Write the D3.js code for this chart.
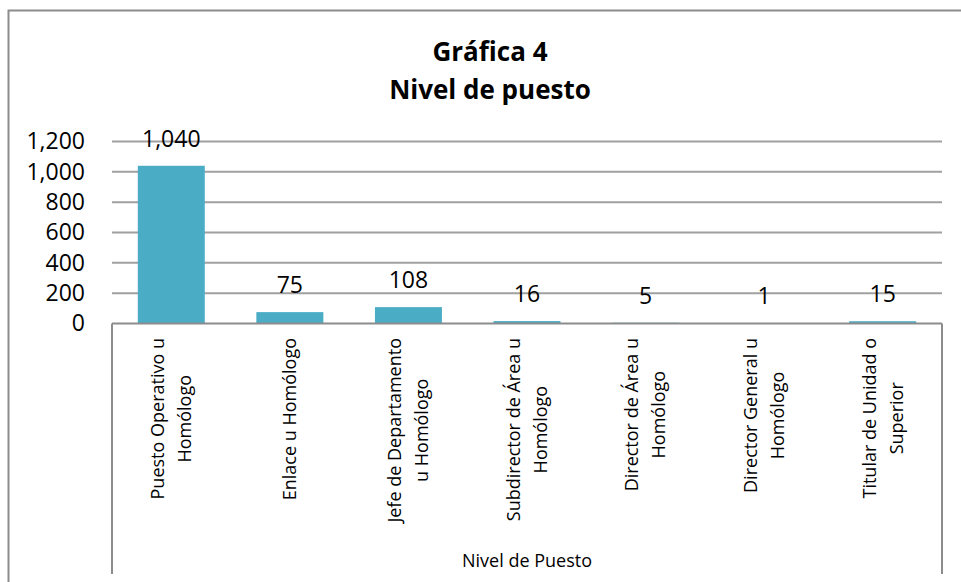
<!DOCTYPE html>
<html>
<head>
<meta charset="utf-8">
<script src="https://cdn.jsdelivr.net/npm/d3@7"></script>
<style>
  body { margin: 0; background: #fff; }
  svg { display: block; font-family: "Open Sans", sans-serif; }
</style>
</head>
<body>
<svg id="chart" width="961" height="582"></svg>
<script>
// datos de la gráfica
const categories = [
  ["Puesto Operativo u", "Homólogo"],
  ["Enlace u Homólogo"],
  ["Jefe de Departamento", "u Homólogo"],
  ["Subdirector de Área u", "Homólogo"],
  ["Director de Área u", "Homólogo"],
  ["Director General u", "Homólogo"],
  ["Titular de Unidad o", "Superior"]
];
const values = [1040, 75, 108, 16, 5, 1, 15];
const yTicks = [0, 200, 400, 600, 800, 1000, 1200];
const titleLines = ["Gráfica 4", "Nivel de puesto"];
const axisTitle = "Nivel de Puesto";

const svg = d3.select("#chart");
const plotLeft = 112, plotRight = 942, plotTop = 141.5, plotBottom = 323.5;

// marco exterior (recortado a la derecha y abajo)
svg.append("rect")
  .attr("x", 8.5).attr("y", 10.5)
  .attr("width", 1000).attr("height", 1000)
  .attr("fill", "none")
  .attr("stroke", "#8c8c8c")
  .attr("stroke-width", 2);

// título
svg.append("g").selectAll("text")
  .data(titleLines)
  .enter()
  .append("text")
  .attr("x", 490)
  .attr("y", (d, i) => 61 + i * 38)
  .attr("text-anchor", "middle")
  .attr("font-size", "26px")
  .attr("font-weight", "bold")
  .attr("fill", "#000")
  .text(d => d);

const x = d3.scaleBand()
  .domain(d3.range(categories.length))
  .range([plotLeft, plotRight])
  .paddingInner(0.435)
  .paddingOuter(0.2175);

const y = d3.scaleLinear().domain([0, 1200]).range([plotBottom, plotTop]);

// líneas de cuadrícula
svg.append("g").selectAll("line")
  .data(yTicks.filter(d => d > 0))
  .enter()
  .append("line")
  .attr("x1", plotLeft).attr("x2", plotRight)
  .attr("y1", d => y(d)).attr("y2", d => y(d))
  .attr("stroke", "#a0a0a0")
  .attr("stroke-width", 2);

// eje y con d3
const yAxis = d3.axisLeft(y)
  .tickValues(yTicks)
  .tickSize(0)
  .tickPadding(27)
  .tickFormat(d3.format(","));

const gy = svg.append("g")
  .attr("transform", `translate(${plotLeft},0)`)
  .call(yAxis);
gy.select(".domain").remove();
gy.selectAll("text")
  .attr("font-family", "Open Sans, sans-serif")
  .attr("font-size", "23px")
  .attr("fill", "#000");

// barras
svg.append("g").selectAll("rect")
  .data(values)
  .enter()
  .append("rect")
  .attr("x", (d, i) => x(i))
  .attr("y", d => y(d))
  .attr("width", x.bandwidth())
  .attr("height", d => y(0) - y(d))
  .attr("fill", "#4bacc6");

// etiquetas de datos
svg.append("g").selectAll("text")
  .data(values)
  .enter()
  .append("text")
  .attr("x", (d, i) => x(i) + x.bandwidth() / 2)
  .attr("y", d => y(d) - 19)
  .attr("text-anchor", "middle")
  .attr("font-size", "23px")
  .attr("fill", "#000")
  .text(d => d3.format(",")(d));

// eje x (línea del cero y caja de categorías)
svg.append("line")
  .attr("x1", plotLeft).attr("x2", plotRight)
  .attr("y1", plotBottom).attr("y2", plotBottom)
  .attr("stroke", "#8c8c8c")
  .attr("stroke-width", 2);

svg.append("g").selectAll("line")
  .data([plotLeft, plotRight])
  .enter()
  .append("line")
  .attr("x1", d => d).attr("x2", d => d)
  .attr("y1", plotBottom).attr("y2", 574)
  .attr("stroke", "#8c8c8c")
  .attr("stroke-width", 2);

// etiquetas de categorías rotadas
const labelTop = 338;
const lineH = 27;
categories.forEach((lines, i) => {
  const cx = x(i) + x.bandwidth() / 2;
  const g = svg.append("g")
    .attr("transform", `translate(${cx},${labelTop}) rotate(-90)`);
  const texts = g.selectAll("text")
    .data(lines)
    .enter()
    .append("text")
    .attr("y", (d, j) => (j - (lines.length - 1) / 2) * lineH)
    .attr("dy", "0.35em")
    .attr("text-anchor", "middle")
    .attr("font-size", "18px")
    .attr("fill", "#000")
    .text(d => d);
  let maxLen = 0;
  texts.each(function () { maxLen = Math.max(maxLen, this.getComputedTextLength()); });
  texts.attr("x", -maxLen / 2);
});

// título del eje
svg.append("text")
  .attr("x", (plotLeft + plotRight) / 2)
  .attr("y", 567)
  .attr("text-anchor", "middle")
  .attr("font-size", "18px")
  .attr("fill", "#000")
  .text(axisTitle);
</script>
</body>
</html>
